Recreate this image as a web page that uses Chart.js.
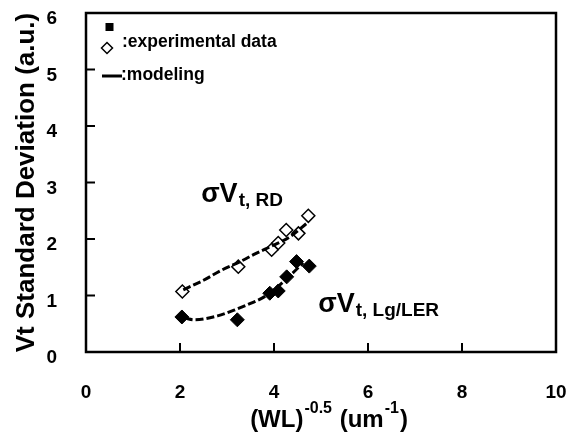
<!DOCTYPE html>
<html>
<head>
<meta charset="utf-8">
<script src="https://cdn.jsdelivr.net/npm/chart.js@4/dist/chart.umd.min.js"></script>
<style>
  html, body { margin: 0; padding: 0; background: #fff; }
  #c { display: block; }
</style>
</head>
<body>
<canvas id="c" width="573" height="440"></canvas>
<script>
// measured points (open diamonds = RD, filled = Lg/LER)
var rdX = [2.05, 3.24, 3.95, 4.09, 4.26, 4.52, 4.73];
var rdY = [1.07, 1.51, 1.81, 1.93, 2.16, 2.10, 2.41];
var lgX = [2.04, 3.22, 3.91, 4.09, 4.27, 4.48, 4.75];
var lgY = [0.62, 0.57, 1.04, 1.08, 1.33, 1.60, 1.52];

// modeling curves
var rdModelX = [2.07, 2.5, 2.89, 3.28, 3.63, 3.99, 4.34, 4.7];
var rdModelY = [1.10, 1.27, 1.45, 1.60, 1.75, 1.89, 2.04, 2.28];
var lgModelX = [2.1, 2.3, 2.8, 3.15, 3.5, 3.8, 4.1, 4.35, 4.62];
var lgModelY = [0.60, 0.57, 0.64, 0.74, 0.86, 0.98, 1.17, 1.36, 1.58];

var xTicks = [0, 2, 4, 6, 8, 10];
var yTicks = [0, 1, 2, 3, 4, 5, 6];

var FONT = '"Liberation Sans", Arial, sans-serif';

function toPoints(xs, ys) {
    return xs.map(function(x, i) { return {x: x, y: ys[i]}; });
}

function noPadding(scale) {
    scale.paddingTop = 0;
    scale.paddingBottom = 0;
    scale.paddingLeft = 0;
    scale.paddingRight = 0;
}

// frame, inward ticks, legend, annotations and x title
var decorations = {
    id: 'decorations',
    afterDraw: function(chart) {
        var ctx = chart.ctx;
        var a = chart.chartArea;
        var xs = chart.scales.x, ys = chart.scales.y;

        ctx.save();
        ctx.strokeStyle = '#000';
        ctx.lineWidth = 2.5;
        ctx.strokeRect(a.left, a.top, a.right - a.left, a.bottom - a.top);

        ctx.lineWidth = 2;
        ctx.beginPath();
        xTicks.slice(1, -1).forEach(function(v) {
            var px = xs.getPixelForValue(v);
            ctx.moveTo(px, a.bottom);
            ctx.lineTo(px, a.bottom - 9);
        });
        yTicks.slice(1, -1).forEach(function(v) {
            var py = ys.getPixelForValue(v);
            ctx.moveTo(a.left, py);
            ctx.lineTo(a.left + 9, py);
        });
        ctx.stroke();

        // legend
        ctx.fillStyle = '#000';
        ctx.fillRect(105.5, 23, 8, 8);
        ctx.lineWidth = 1.5;
        ctx.beginPath();
        ctx.moveTo(107, 42.5); ctx.lineTo(112.5, 48); ctx.lineTo(107, 53.5); ctx.lineTo(101.5, 48);
        ctx.closePath();
        ctx.stroke();
        ctx.lineWidth = 3;
        ctx.beginPath();
        ctx.moveTo(102, 76); ctx.lineTo(122, 76);
        ctx.stroke();
        ctx.font = 'bold 17.5px ' + FONT;
        ctx.textBaseline = 'alphabetic';
        ctx.textAlign = 'left';
        ctx.fillText(':experimental data', 122, 47);
        ctx.fillText(':modeling', 121, 80);

        // annotations
        function label(x, y, main, sub) {
            var px = xs.getPixelForValue(x), py = ys.getPixelForValue(y);
            ctx.font = 'bold 27px ' + FONT;
            ctx.fillText(main, px, py);
            var w = ctx.measureText(main).width;
            ctx.font = 'bold 19px ' + FONT;
            ctx.fillText(sub, px + w + 1, py + 4);
        }
        label(2.45, 2.65, '\u03c3V', 't, RD');
        label(4.94, 0.71, '\u03c3V', 't, Lg/LER');

        // x title with superscripts
        var parts = [
            {t: '(WL)', big: true},
            {t: '-0.5', big: false},
            {t: ' (um', big: true},
            {t: '-1', big: false},
            {t: ')', big: true}
        ];
        var total = 0;
        parts.forEach(function(p) {
            ctx.font = 'bold ' + (p.big ? 24 : 16) + 'px ' + FONT;
            p.w = ctx.measureText(p.t).width;
            total += p.w + (p.big ? 0 : 2);
        });
        var cx = 329 - total / 2;
        parts.forEach(function(p) {
            ctx.font = 'bold ' + (p.big ? 24 : 16) + 'px ' + FONT;
            if (p.big) {
                ctx.fillText(p.t, cx, 427);
                cx += p.w;
            } else {
                ctx.fillText(p.t, cx + 1, 413);
                cx += p.w + 2;
            }
        });
        ctx.restore();
    }
};

var config = {
    type: 'scatter',
    data: {
        datasets: [{
            label: 'RD modeling',
            data: toPoints(rdModelX, rdModelY),
            showLine: true,
            borderColor: '#000',
            borderWidth: 3,
            borderDash: [8, 3],
            pointRadius: 0,
            cubicInterpolationMode: 'monotone'
        }, {
            label: 'Lg/LER modeling',
            data: toPoints(lgModelX, lgModelY),
            showLine: true,
            borderColor: '#000',
            borderWidth: 3,
            borderDash: [8, 3],
            pointRadius: 0,
            cubicInterpolationMode: 'monotone'
        }, {
            label: 'RD experimental',
            data: toPoints(rdX, rdY),
            pointStyle: 'rectRot',
            pointRadius: 6.5,
            borderWidth: 1.5,
            borderColor: '#000',
            backgroundColor: '#fff'
        }, {
            label: 'Lg/LER experimental',
            data: toPoints(lgX, lgY),
            pointStyle: 'rectRot',
            pointRadius: 7,
            borderWidth: 1,
            borderColor: '#000',
            backgroundColor: '#000'
        }]
    },
    options: {
        responsive: false,
        animation: false,
        layout: { padding: { top: 13, right: 17, left: 0, bottom: 0 } },
        plugins: {
            legend: { display: false },
            tooltip: { enabled: false }
        },
        scales: {
            x: {
                type: 'linear',
                min: 0,
                max: 10,
                afterBuildTicks: function(scale) {
                    scale.ticks = xTicks.map(function(v) { return {value: v}; });
                },
                afterFit: function(scale) { scale.height = 88; noPadding(scale); },
                grid: { display: false, drawTicks: false },
                border: { display: false },
                ticks: {
                    color: '#000',
                    font: { family: FONT, size: 19, weight: 'bold' },
                    padding: 29,
                    maxRotation: 0
                }
            },
            y: {
                type: 'linear',
                min: 0,
                max: 6,
                afterBuildTicks: function(scale) {
                    scale.ticks = yTicks.map(function(v) { return {value: v}; });
                },
                afterFit: function(scale) { scale.width = 86; noPadding(scale); },
                grid: { display: false, drawTicks: false },
                border: { display: false },
                ticks: {
                    color: '#000',
                    font: { family: FONT, size: 19, weight: 'bold' },
                    padding: 29,
                    labelOffset: 6
                },
                title: {
                    display: true,
                    text: 'Vt Standard Deviation (a.u.)',
                    color: '#000',
                    font: { family: FONT, size: 26, weight: 'bold' },
                    padding: { top: 11, bottom: 0 }
                }
            }
        }
    },
    plugins: [decorations]
};

new Chart(document.getElementById('c').getContext('2d'), config);
</script>
</body>
</html>
